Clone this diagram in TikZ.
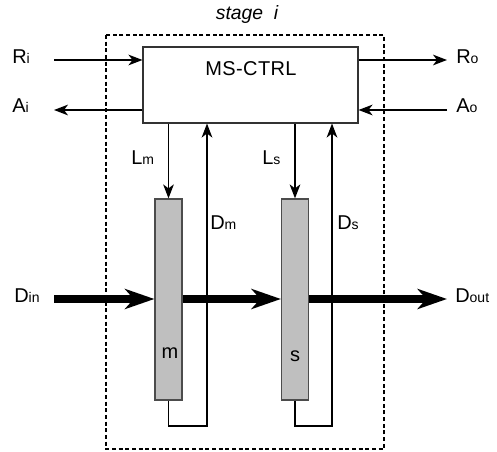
\documentclass[tikz,border=0pt]{standalone}
\usepackage{fontspec}
\setmainfont{Liberation Sans}
\usetikzlibrary{arrows.meta}
\newcommand{\sub}[1]{{\fontsize{10.5}{11}\selectfont #1}}
\begin{document}
\begin{tikzpicture}[x=0.75pt,y=-0.75pt,
  lbl/.style={inner sep=0pt,font=\fontsize{15}{17}\selectfont},
  sig/.style={line width=1.1pt,-{Stealth[length=10.5pt,width=8pt,inset=3pt]}},
  data/.style={line width=5.5pt,-{Stealth[length=22pt,width=15pt,inset=6.5pt]}},
  reg/.style={draw=black!70,fill=black!25,line width=0.9pt,minimum width=20.25pt,minimum height=150.75pt,inner sep=0pt},
  ctrlbox/.style={draw=black!80,line width=0.8pt,minimum width=161.25pt,minimum height=57pt,inner sep=0pt},
  loop/.style={line width=1.1pt}]
\useasboundingbox (0,0) rectangle (497,452);

% stage boundary
\draw[line width=1.1pt,dash pattern=on 3pt off 2pt] (106,35) rectangle (384,449);
\node[lbl,font=\fontsize{14.5}{16}\selectfont\itshape] (stage) at (247,15) {stage\ \ i};

% controller
\node[ctrlbox] (ctrl) at (250.5,85) {};
\node[lbl,font=\fontsize{15}{17}\selectfont\addfontfeature{LetterSpace=2}] (ctrltxt) at (251,69) {MS-CTRL};

% registers
\node[reg] (m) at (168.5,299.5) {};
\node[reg] (s) at (295,299.5) {};
\node[lbl] (mtxt) at (170,353) {m};
\node[lbl] (stxt) at (295,356) {s};

% handshake ports
\coordinate (ri) at (54,60);
\coordinate (ai) at (54,110);
\coordinate (ro) at (447,60);
\coordinate (ao) at (447,110);
\node[lbl,anchor=west] (rilbl) at (12,57) {R\sub{i}};
\node[lbl,anchor=west] (ailbl) at (12,106) {A\sub{i}};
\node[lbl,anchor=west] (rolbl) at (456,57) {R\sub{o}};
\node[lbl,anchor=west] (aolbl) at (456,106) {A\sub{o}};

\draw[sig] (ri) -- (ri -| ctrl.west);
\draw[sig] (ai -| ctrl.west) -- (ai);
\draw[sig] (ro -| ctrl.east) -- (ro);
\draw[sig] (ao) -- (ao -| ctrl.east);

% latch enables
\draw[sig] (m.north |- ctrl.south) -- (m.north);
\draw[sig] (s.north |- ctrl.south) -- (s.north);
\node[lbl,anchor=west] (lm) at (131,158) {L\sub{m}};
\node[lbl,anchor=west] (ls) at (262,158) {L\sub{s}};

% done feedback
\coordinate (mb) at (207,426);
\coordinate (sb) at (332,426);
\draw[loop,-{Stealth[length=10.5pt,width=8pt,inset=3pt]}] (m.south) |- (mb) -- (mb |- ctrl.south);
\draw[loop,-{Stealth[length=10.5pt,width=8pt,inset=3pt]}] (s.south) |- (sb) -- (sb |- ctrl.south);
\node[lbl,anchor=west] (dm) at (210,223) {D\sub{m}};
\node[lbl,anchor=west] (ds) at (337,223) {D\sub{s}};

% data path
\coordinate (din) at (54,299);
\coordinate (dout) at (447,299);
\node[lbl,anchor=west] (dinlbl) at (14,296) {D\sub{in}};
\node[lbl,anchor=west] (doutlbl) at (455,296) {D\sub{out}};
\draw[data] (din) -- (din -| m.west);
\draw[data] (din -| m.east) -- (din -| s.west);
\draw[data] (din -| s.east) -- (dout);
\end{tikzpicture}
\end{document}
